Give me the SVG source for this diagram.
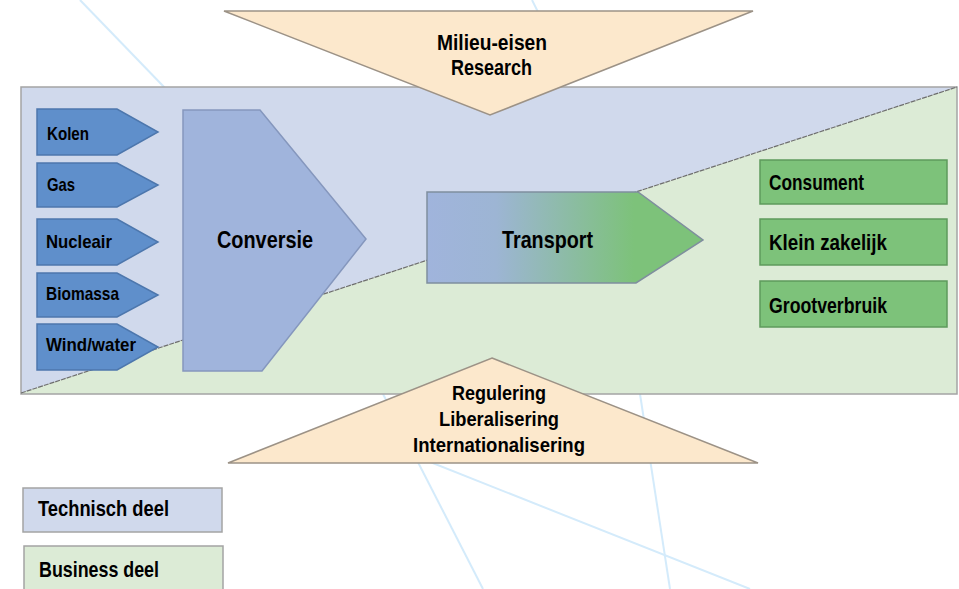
<svg xmlns="http://www.w3.org/2000/svg" width="959" height="589" viewBox="0 0 959 589">
<defs>
<style>
.t{font-family:"Liberation Sans Narrow","Liberation Sans",Arial,sans-serif;font-weight:bold;fill:#000;}
.deco{stroke:#d4ebfb;stroke-width:2;fill:none;}
.src{fill:#5f8fcb;stroke:#4d77ad;stroke-width:1.5;}
.cons{fill:#7dc27a;stroke:#5e9a5c;stroke-width:1.5;}
.tri{fill:#fce8cc;stroke:#9c9286;stroke-width:1.5;}
</style>
<linearGradient id="tg" x1="427" y1="0" x2="703" y2="0" gradientUnits="userSpaceOnUse">
<stop offset="0" stop-color="#a0b4dc"/>
<stop offset="0.25" stop-color="#9db5d4"/>
<stop offset="0.75" stop-color="#7dc27a"/>
<stop offset="1" stop-color="#7dc27a"/>
</linearGradient>
</defs>
<rect width="959" height="589" fill="#ffffff"/>
<g id="background-lines">
<line class="deco" x1="80" y1="0" x2="165" y2="88"/>
<line class="deco" x1="532" y1="0" x2="538" y2="12"/>
<line class="deco" x1="383" y1="394" x2="483" y2="589"/>
<line class="deco" x1="410" y1="454" x2="750" y2="589"/>
<line class="deco" x1="640" y1="394" x2="670" y2="589"/>
</g>
<g id="main-area">
<polygon points="21,87 957,87 21,393" fill="#d0d9ec"/>
<polygon points="957,87 957,394 21,394 21,393" fill="#dcebd6"/>
<rect x="21" y="87" width="936" height="307" fill="none" stroke="#a4a4a4" stroke-width="1.5"/>
<line x1="21" y1="393" x2="957" y2="87" stroke="#6e6e6e" stroke-width="1.2" stroke-dasharray="5 1"/>
</g>
<g id="node-kolen"><polygon class="src" points="37,109 117,109 158,132 117,155 37,155"/><text class="t" x="47" y="140" font-size="18.5" textLength="42" lengthAdjust="spacingAndGlyphs">Kolen</text></g>
<g id="node-gas"><polygon class="src" points="37,163 117,163 158,185 117,207 37,207"/><text class="t" x="47" y="191" font-size="18.5" textLength="28" lengthAdjust="spacingAndGlyphs">Gas</text></g>
<g id="node-nucleair"><polygon class="src" points="37,219 117,219 158,242 117,265 37,265"/><text class="t" x="46" y="248" font-size="18.5" textLength="66" lengthAdjust="spacingAndGlyphs">Nucleair</text></g>
<g id="node-biomassa"><polygon class="src" points="37,273 117,273 158,295 117,317 37,317"/><text class="t" x="46" y="300" font-size="18.5" textLength="73" lengthAdjust="spacingAndGlyphs">Biomassa</text></g>
<g id="node-windwater"><polygon class="src" points="37,324 117,324 158,347 117,370 37,370"/><text class="t" x="46" y="351" font-size="18.5" textLength="90" lengthAdjust="spacingAndGlyphs">Wind/water</text></g>
<g id="node-conversie"><polygon points="183,110 260,110 366,239 262,371 183,371" fill="#a0b4dc" stroke="#8597bd" stroke-width="1.5"/><text class="t" x="217" y="248" font-size="24.5" textLength="96" lengthAdjust="spacingAndGlyphs">Conversie</text></g>
<g id="node-transport"><polygon points="427,192 638,192 703,240 636,283 427,283" fill="url(#tg)" stroke="#7f8e9e" stroke-width="1.5"/><text class="t" x="502" y="248" font-size="24.5" textLength="91" lengthAdjust="spacingAndGlyphs">Transport</text></g>
<g id="node-consument"><rect class="cons" x="760" y="160" width="187" height="44"/><text class="t" x="769" y="190" font-size="21.5" textLength="95" lengthAdjust="spacingAndGlyphs">Consument</text></g>
<g id="node-klein"><rect class="cons" x="760" y="219" width="187" height="46"/><text class="t" x="769" y="250" font-size="21.5" textLength="118" lengthAdjust="spacingAndGlyphs">Klein zakelijk</text></g>
<g id="node-groot"><rect class="cons" x="760" y="281" width="187" height="46"/><text class="t" x="769" y="313" font-size="21.5" textLength="118" lengthAdjust="spacingAndGlyphs">Grootverbruik</text></g>
<g id="node-top"><polygon class="tri" points="224,11 753,11 490,115"/><text class="t" x="437" y="50" font-size="21.5" textLength="110" lengthAdjust="spacingAndGlyphs">Milieu-eisen</text><text class="t" x="451" y="75" font-size="21.5" textLength="81" lengthAdjust="spacingAndGlyphs">Research</text></g>
<g id="node-bottom"><polygon class="tri" points="492,358 758,463 228,463"/><text class="t" x="452" y="400" font-size="21" textLength="94" lengthAdjust="spacingAndGlyphs">Regulering</text><text class="t" x="439" y="426" font-size="21" textLength="120" lengthAdjust="spacingAndGlyphs">Liberalisering</text><text class="t" x="413" y="452" font-size="21" textLength="172" lengthAdjust="spacingAndGlyphs">Internationalisering</text></g>
<g id="legend-technisch"><rect x="23" y="488" width="199" height="44" fill="#d0d9ec" stroke="#a4a4a4" stroke-width="1.5"/><text class="t" x="38" y="516" font-size="22.5" textLength="131" lengthAdjust="spacingAndGlyphs">Technisch deel</text></g>
<g id="legend-business"><rect x="24" y="546" width="199" height="48" fill="#dcebd6" stroke="#a4a4a4" stroke-width="1.5"/><text class="t" x="39" y="577" font-size="22.5" textLength="120" lengthAdjust="spacingAndGlyphs">Business deel</text></g>
<g id="connectors"></g>
</svg>
